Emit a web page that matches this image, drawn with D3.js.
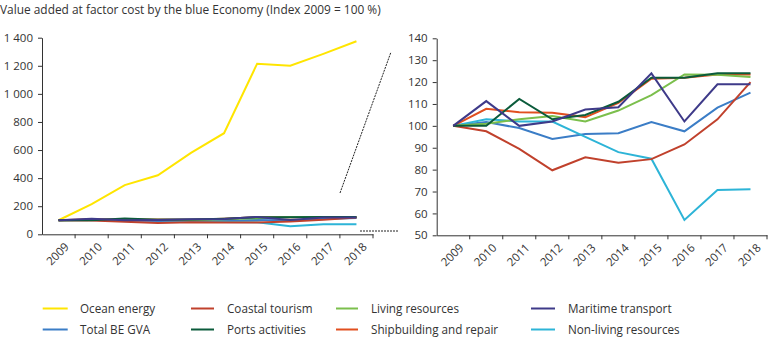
<!DOCTYPE html>
<html><head><meta charset="utf-8">
<script src="https://cdn.jsdelivr.net/npm/d3@7"></script>
<style>
body{margin:0;background:#fff;}
svg text{font-family:"Open Sans",sans-serif;fill:#333;}
</style></head>
<body><svg id="c" width="768" height="337"></svg>
<script>
const years = ["2009","2010","2011","2012","2013","2014","2015","2016","2017","2018"];
const leftTicks = [0,200,400,600,800,1000,1200,1400];
const rightTicks = [50,60,70,80,90,100,110,120,130,140];
const oceanEnergy = [100,215,350,420,580,720,1215,1200,1285,1375];
const totalBE = [100,101.7,99,94,96.3,96.6,101.7,97.5,108.3,115.2];
const coastalTourism = [100,97.5,89.5,79.7,85.6,83.2,84.8,91.5,103,120];
const portsActivities = [100,100,112.3,103,105,111,122,122,124,124];
const livingResources = [100,101,103,104.5,102,107,114,123.5,123.3,122.3];
const shipbuilding = [100,107.8,106.2,106,104,110.5,121.5,122,123.5,123.5];
const maritimeTransport = [100,111.3,100,102,107.5,108.5,124,102,119,119];
const nonLiving = [100,103,102,102,95,88,85,57,70.7,71];

const series = [
  {name:"Ocean energy", values:oceanEnergy, color:"#ffe500"},
  {name:"Total BE GVA", values:totalBE, color:"#3b7dc6"},
  {name:"Coastal tourism", values:coastalTourism, color:"#c0412c"},
  {name:"Ports activities", values:portsActivities, color:"#0b5b3b"},
  {name:"Living resources", values:livingResources, color:"#7bbf4c"},
  {name:"Shipbuilding and repair", values:shipbuilding, color:"#e14f1f"},
  {name:"Maritime transport", values:maritimeTransport, color:"#3e3a89"},
  {name:"Non-living resources", values:nonLiving, color:"#2db4d7"}
];
const drawOrder = ["Ocean energy","Total BE GVA","Non-living resources","Shipbuilding and repair","Living resources","Coastal tourism","Ports activities","Maritime transport"];

const svg = d3.select("#c");
const loc = d3.formatLocale({decimal:".",thousands:" ",grouping:[3],currency:["",""]});
const fmt = loc.format(",d");

svg.append("text").attr("x",0).attr("y",14).attr("font-size",11.9).attr("fill","#444")
  .text("Value added at factor cost by the blue Economy (Index 2009 = 100 %)");

function panel(x0,x1,yScale,ticks,list){
  const x = d3.scaleBand().domain(years).range([x0,x1]).padding(0);
  const yb = yScale.range()[0];
  const g = svg.append("g");
  const ya = g.append("g").attr("transform",`translate(${x0},0)`)
    .call(d3.axisLeft(yScale).tickValues(ticks).tickFormat(fmt).tickSize(4).tickPadding(5).tickSizeOuter(0));
  ya.selectAll("text").attr("font-size",11.5).style("font-family","Open Sans");
  ya.selectAll("line,path").attr("stroke","#333");
  const xa = g.append("g").attr("transform",`translate(0,${yb})`)
    .call(d3.axisBottom(x).tickSize(0).tickSizeOuter(0).tickPadding(0));
  xa.select(".domain").attr("stroke","#333");
  xa.selectAll(".tick text").attr("font-size",11.5).style("font-family","Open Sans")
    .attr("text-anchor","end").attr("dy",null).attr("y",null)
    .attr("transform","translate(8,10) rotate(-45)").attr("dominant-baseline","central");
  const bounds = years.map(d=>x(d)).concat([x1]).slice(1);
  g.selectAll(".xt").data(bounds).join("line").attr("class","xt")
    .attr("x1",d=>d).attr("x2",d=>d).attr("y1",yb).attr("y2",yb+4).attr("stroke","#333");
  const line = d3.line().x((d,i)=>x(years[i])+x.bandwidth()/2).y(d=>yScale(d));
  drawOrder.forEach(n=>{
    const s = series.find(q=>q.name===n);
    if(!list.includes(n)) return;
    g.append("path").attr("d",line(s.values)).attr("fill","none")
      .attr("stroke",s.color).attr("stroke-width",2).attr("stroke-linejoin","miter");
  });
}

const yL = d3.scaleLinear().domain([0,1400]).range([234.3,37.7]);
panel(42,373,yL,leftTicks,drawOrder);
const yR = d3.scaleLinear().domain([50,140]).range([235.3,38.3]);
panel(436.7,767,yR,rightTicks,drawOrder.filter(n=>n!=="Ocean energy"));

svg.append("line").attr("x1",340).attr("y1",193).attr("x2",391).attr("y2",52)
  .attr("stroke","#222").attr("stroke-width",1).attr("stroke-dasharray","2,1");
svg.append("line").attr("x1",360).attr("y1",231).attr("x2",398).attr("y2",231)
  .attr("stroke","#222").attr("stroke-width",1).attr("stroke-dasharray","2,1");

const colX = [[42.7,67.7,80],[191,214,227],[336,358,371],[531,555,568]];
const rowY = [308.5,329.5];
series.forEach((s,i)=>{
  const c = Math.floor(i/2), r = i%2;
  const lg = svg.append("g");
  lg.append("line").attr("x1",colX[c][0]).attr("x2",colX[c][1]).attr("y1",rowY[r]).attr("y2",rowY[r])
    .attr("stroke",s.color).attr("stroke-width",2);
  lg.append("text").attr("x",colX[c][2]).attr("y",rowY[r]).attr("dy","0.35em")
    .attr("font-size",11.7).text(s.name);
});
</script></body></html>
